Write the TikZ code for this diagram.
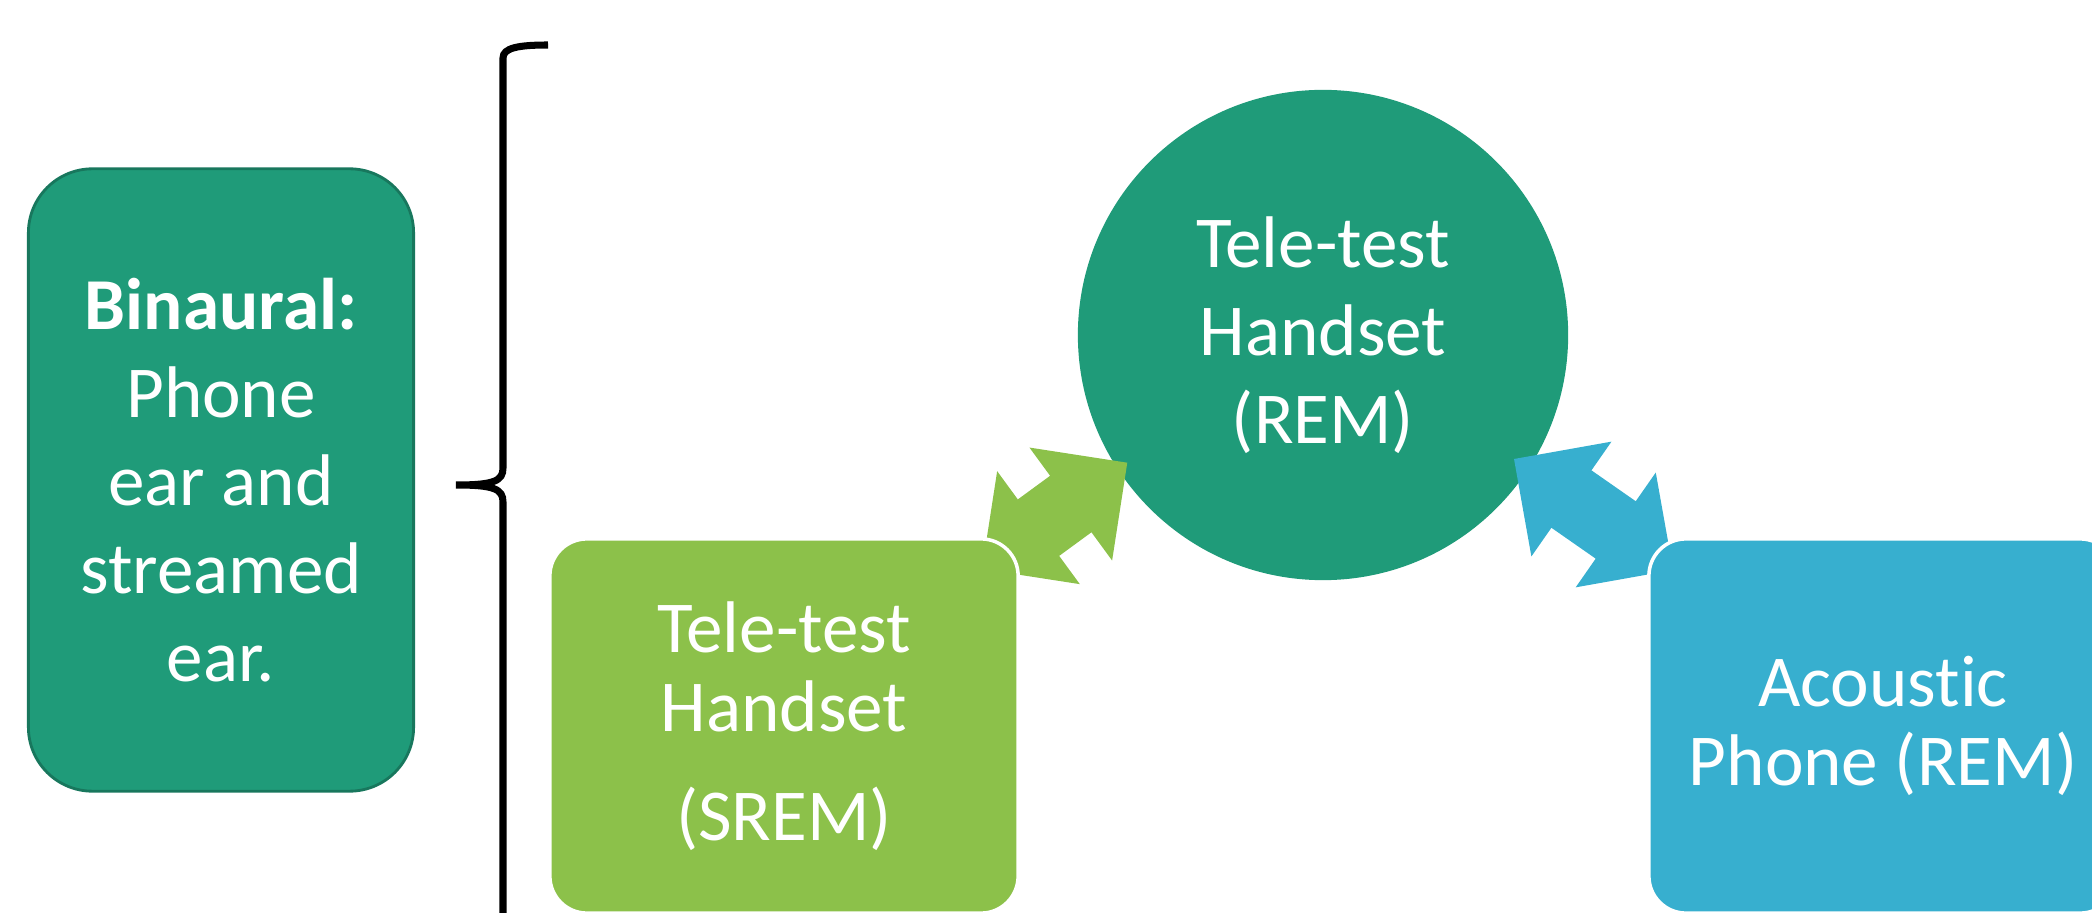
\documentclass[tikz,border=0pt]{standalone}
\usepackage{fontspec}
\setmainfont{Carlito}[Ligatures=NoCommon]
\definecolor{tealgreen}{HTML}{1F9B79}
\definecolor{tealedge}{HTML}{18775D}
\definecolor{leafgreen}{HTML}{8CC14A}
\definecolor{skyblue}{HTML}{37AFCF}

\begin{document}
\begin{tikzpicture}[x=0.01cm, y=-0.01cm,
    txt/.style={text=white, align=center, font=\fontsize{20.8}{25}\selectfont},
    box/.style={txt, rectangle, rounded corners=0.37cm, draw=white, line width=1pt,
        minimum width=4.68cm, minimum height=3.74cm, inner sep=0pt,
        font=\fontsize{20.8}{22.5}\selectfont}]

    \clip (0,0) rectangle (2092,913);

    \node[txt, draw=tealedge, line width=0.8pt, fill=tealgreen, rectangle, rounded corners=0.64cm,
        minimum width=3.85cm, minimum height=6.22cm] (binaural) at (221,480)
        {\textbf{Binaural:}\\Phone\\ear and\\streamed\\ear.};

    \draw[line width=2pt] (548,45) .. controls (518,45) and (503,48) .. (503,58) -- (503,468)
        .. controls (503,481) and (494,485) .. (456,485)
        .. controls (494,485) and (503,489) .. (503,502) -- (503,930);

    \node[txt, circle, fill=tealgreen, minimum size=4.9cm, inner sep=0pt] (rem) at (1323,335)
        {Tele-test\\Handset\\(REM)};

    \coordinate (greentail) at (982,569);
    \coordinate (bluetail) at (1514,459);

    \begin{scope}[shift={(greentail)}, rotate=36.2]
        \fill[leafgreen] (0,0) -- (70,70) -- (70,35) -- (110,35) -- (110,70) -- (180,0)
            -- (110,-70) -- (110,-35) -- (70,-35) -- (70,-70) -- cycle;
    \end{scope}
    \begin{scope}[shift={(bluetail)}, rotate=-34.9]
        \fill[skyblue] (0,0) -- (70,70) -- (70,35) -- (124,35) -- (124,70) -- (194,0)
            -- (124,-70) -- (124,-35) -- (70,-35) -- (70,-70) -- cycle;
    \end{scope}

    \node[box, fill=leafgreen] (srem) at (784,726) {Tele-test\\Handset\\[0.3cm](SREM)};
    \node[box, fill=skyblue] (acoustic) at (1883,726) {Acoustic\\Phone (REM)};

\end{tikzpicture}
\end{document}
